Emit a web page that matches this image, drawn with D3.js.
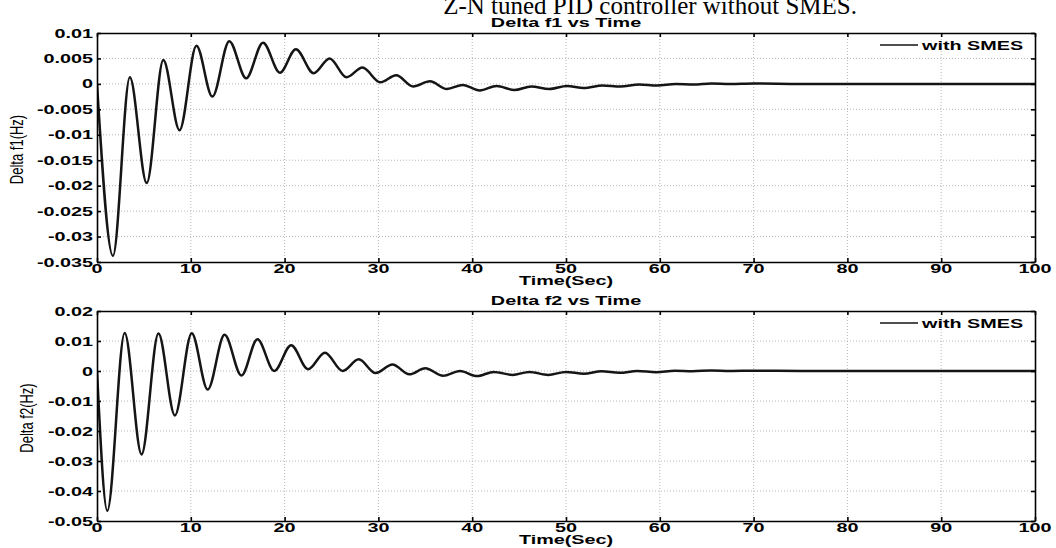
<!DOCTYPE html>
<html>
<head>
<meta charset="utf-8">
<script src="https://cdn.jsdelivr.net/npm/d3@7"></script>
<style>
  html, body { margin: 0; padding: 0; background: #fff; }
  svg { display: block; }
</style>
</head>
<body>
<svg id="chart" width="1056" height="548"></svg>
<script>
// ---------------- data ----------------
const pageTitle = "Z-N tuned PID controller without SMES.";
const seriesName = "with SMES";
const xLabel = "Time(Sec)";

const xTicks = [0, 10, 20, 30, 40, 50, 60, 70, 80, 90, 100];
const xTickLabels = ["0", "10", "20", "30", "40", "50", "60", "70", "80", "90", "100"];

// Panel 1: Delta f1
const title1 = "Delta f1 vs Time";
const yLabel1 = "Delta f1(Hz)";
const y1Ticks = [0.01, 0.005, 0, -0.005, -0.01, -0.015, -0.02, -0.025, -0.03, -0.035];
const y1TickLabels = ["0.01", "0.005", "0", "-0.005", "-0.01", "-0.015", "-0.02", "-0.025", "-0.03", "-0.035"];
const time1 = [0, 1.7, 3.5, 5.3, 7.07, 8.8, 10.6, 12.3, 14.1, 15.9, 17.7, 19.5, 21.2, 23.1, 24.8, 26.6,
  28.3, 30.2, 31.9, 33.7, 35.5, 37.3, 39.0, 40.8, 42.6, 44.5, 46.3, 48.2, 50.1, 51.9, 53.9, 55.8,
  57.8, 59.7, 61.7, 63.6, 65.5, 67.5, 70, 75, 80, 90, 100];
const f1 = [0, -0.0338, 0.0013, -0.0195, 0.0047, -0.0091, 0.0075, -0.0025, 0.0084, 0.0011, 0.0081, 0.0022,
  0.0068, 0.0021, 0.0050, 0.0013, 0.0032, 0.0003, 0.0017, -0.0005, 0.0005, -0.0010, -0.0002, -0.0013,
  -0.0004, -0.0012, -0.0005, -0.0010, -0.0004, -0.0008, -0.0003, -0.0005, -0.0001, -0.0003, 0.0000,
  -0.0001, 0.0001, 0.0000, 0.0001, 0.0000, 0.0000, 0.0000, 0.0000];

// Panel 2: Delta f2
const title2 = "Delta f2 vs Time";
const yLabel2 = "Delta f2(Hz)";
const y2Ticks = [0.02, 0.01, 0, -0.01, -0.02, -0.03, -0.04, -0.05];
const y2TickLabels = ["0.02", "0.01", "0", "-0.01", "-0.02", "-0.03", "-0.04", "-0.05"];
const time2 = [0, 1.1, 2.95, 4.75, 6.55, 8.3, 10.1, 11.8, 13.6, 15.4, 17.1, 18.9, 20.7, 22.5, 24.3, 26.2,
  27.9, 29.7, 31.5, 33.3, 35.0, 36.9, 38.7, 40.5, 42.3, 44.3, 46.1, 48.1, 50.0, 51.9, 53.8, 55.7,
  57.6, 59.6, 61.6, 63.5, 65.5, 67.5, 70, 75, 80, 90, 100];
const f2 = [0, -0.0466, 0.0127, -0.0278, 0.0125, -0.0148, 0.0126, -0.0062, 0.0121, -0.0015, 0.0106, 0.0000,
  0.0086, 0.0006, 0.0061, 0.0000, 0.0039, -0.0007, 0.0022, -0.0011, 0.0009, -0.0016, 0.0000, -0.0017,
  -0.0003, -0.0013, -0.0003, -0.0013, -0.0003, -0.0009, -0.0001, -0.0006, 0.0000, -0.0004, 0.0001,
  -0.0001, 0.0002, 0.0000, 0.0001, 0.0000, 0.0000, 0.0000, 0.0000];

// ---------------- drawing ----------------
const svg = d3.select("#chart");
const SX = 1.65;              // horizontal stretch of the figure text
const FONT = "'Liberation Sans', Arial, sans-serif";

function stretchedText(parent, x, y, str, opts) {
  const o = Object.assign({anchor: "middle", size: 12, weight: "bold", sx: SX, rotate: 0}, opts || {});
  const g = parent.append("g")
    .attr("transform", `translate(${x},${y}) scale(${o.sx},1)` + (o.rotate ? ` rotate(${o.rotate})` : ""));
  g.append("text")
    .attr("text-anchor", o.anchor)
    .attr("font-family", FONT)
    .attr("font-size", o.size)
    .attr("font-weight", o.weight)
    .attr("fill", "#000")
    .text(str);
  return g;
}

svg.append("text")
  .attr("x", 857).attr("y", 14)
  .attr("text-anchor", "end")
  .attr("font-family", "'Liberation Serif', 'Times New Roman', serif")
  .attr("font-size", 25)
  .attr("fill", "#000")
  .text(pageTitle);

function panel(cfg) {
  const x = d3.scaleLinear().domain([0, 100]).range([97, 1035]);
  const y = d3.scaleLinear().domain([cfg.yTicks[cfg.yTicks.length - 1], cfg.yTicks[0]]).range([cfg.bottom, cfg.top]);
  const g = svg.append("g");
  const [x0, x1] = x.range();
  const [yb, yt] = y.range();

  const clipId = "clip" + cfg.id;
  svg.append("defs").append("clipPath").attr("id", clipId)
    .append("rect").attr("x", x0).attr("y", yt).attr("width", x1 - x0).attr("height", yb - yt);

  // grid
  g.append("g").selectAll("line").data(xTicks.slice(1, -1)).join("line")
    .attr("x1", d => x(d)).attr("x2", d => x(d)).attr("y1", yt).attr("y2", yb)
    .attr("stroke", "#b8b8b8").attr("stroke-width", 1).attr("stroke-dasharray", "1,2");
  g.append("g").selectAll("line").data(cfg.yTicks.slice(1, -1)).join("line")
    .attr("y1", d => y(d)).attr("y2", d => y(d)).attr("x1", x0).attr("x2", x1)
    .attr("stroke", "#b8b8b8").attr("stroke-width", 1).attr("stroke-dasharray", "1,2");

  // data line
  const pts = cfg.t.map((t, i) => [t, cfg.v[i]]);
  const line = d3.line().x(d => x(d[0])).y(d => y(d[1])).curve(d3.curveMonotoneX);
  g.append("path").datum(pts)
    .attr("clip-path", `url(#${clipId})`)
    .attr("d", line)
    .attr("fill", "none").attr("stroke", "#151515").attr("stroke-width", 2.5)
    .attr("stroke-linejoin", "round");

  // axes (inward ticks, on all four sides)
  const styleAxis = a => {
    a.selectAll("path").attr("stroke", "#000").attr("stroke-width", 1.6);
    a.selectAll("line").attr("stroke", "#000").attr("stroke-width", 1.6);
  };
  g.append("g").attr("transform", `translate(0,${yb})`)
    .call(d3.axisBottom(x).tickValues(xTicks).tickSizeInner(-4).tickSizeOuter(0).tickFormat(""))
    .call(styleAxis);
  g.append("g").attr("transform", `translate(0,${yt})`)
    .call(d3.axisTop(x).tickValues(xTicks).tickSizeInner(-4).tickSizeOuter(0).tickFormat(""))
    .call(styleAxis);
  g.append("g").attr("transform", `translate(${x0},0)`)
    .call(d3.axisLeft(y).tickValues(cfg.yTicks).tickSizeInner(-4).tickSizeOuter(0).tickFormat(""))
    .call(styleAxis);
  g.append("g").attr("transform", `translate(${x1},0)`)
    .call(d3.axisRight(y).tickValues(cfg.yTicks).tickSizeInner(-4).tickSizeOuter(0).tickFormat(""))
    .call(styleAxis);

  // tick labels
  xTicks.forEach((t, i) => stretchedText(g, x(t), yb + 11, xTickLabels[i]));
  cfg.yTicks.forEach((v, i) => stretchedText(g, x0 - 4, y(v) + 4.5, cfg.yTickLabels[i], {anchor: "end"}));

  // titles and labels
  stretchedText(g, (x0 + x1) / 2, yt - 6, cfg.title);
  stretchedText(g, (x0 + x1) / 2, yb + 23, xLabel);
  stretchedText(g, cfg.yLabelX, (yt + yb) / 2 + 2, cfg.yLabel, {weight: "normal", size: 13, sx: 1.35, rotate: -90});

  // legend
  const ly = yt + 12;
  g.append("line").attr("x1", 880).attr("x2", 918).attr("y1", ly).attr("y2", ly)
    .attr("stroke", "#151515").attr("stroke-width", 1.6);
  stretchedText(g, 922, ly + 4.5, seriesName, {anchor: "start"});
}

panel({id: 1, top: 33, bottom: 262, yTicks: y1Ticks, yTickLabels: y1TickLabels, t: time1, v: f1,
  title: title1, yLabel: yLabel1, yLabelX: 23});
panel({id: 2, top: 311, bottom: 521, yTicks: y2Ticks, yTickLabels: y2TickLabels, t: time2, v: f2,
  title: title2, yLabel: yLabel2, yLabelX: 33});
</script>
</body>
</html>
